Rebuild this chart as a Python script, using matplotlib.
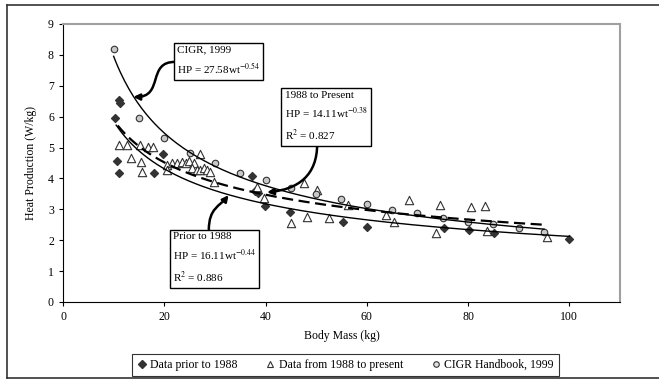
import numpy as np
import matplotlib
matplotlib.use("Agg")
import matplotlib.pyplot as plt
from matplotlib.lines import Line2D
from matplotlib.patches import FancyArrowPatch
from matplotlib.path import Path

plt.rcParams["font.family"] = ["Liberation Serif", "DejaVu Serif"]
plt.rcParams["mathtext.fontset"] = "stix"

# Data prior to 1988 (diamonds)
prior_x = [10.3, 11.0, 11.2, 10.6, 11.0, 18.0, 19.8, 37.4, 38.0, 38.5, 39.8, 44.9, 55.2, 60.0, 75.3, 80.1, 85.2, 100.0]
prior_y = [5.95, 6.55, 6.45, 4.56, 4.16, 4.16, 4.80, 4.08, 3.60, 3.52, 3.12, 2.92, 2.60, 2.44, 2.38, 2.33, 2.22, 2.03]

# Data from 1988 to present (triangles)
post_x = [11.0, 12.6, 15.2, 16.7, 17.8, 13.5, 15.4, 15.6,
          20.5, 20.5, 21.5, 22.5, 23.5, 24.2, 24.8, 25.8, 25.5, 26.5, 27.1, 27.8, 28.5, 29.1, 29.8, 27.1,
          38.4, 39.7, 47.6, 50.2, 45.1, 48.1, 52.5, 56.3, 63.8, 65.3, 68.3, 73.7, 74.4, 80.6, 83.3, 83.8, 95.6]
post_y = [5.08, 5.08, 5.08, 5.03, 5.03, 4.65, 4.54, 4.22,
          4.43, 4.27, 4.49, 4.51, 4.54, 4.49, 4.56, 4.49, 4.33, 4.27, 4.27, 4.33, 4.27, 4.22, 3.89, 4.78,
          3.72, 3.38, 3.86, 3.64, 2.57, 2.76, 2.71, 3.14, 2.83, 2.60, 3.30, 2.22, 3.14, 3.09, 3.10, 2.31, 2.12]

# CIGR Handbook, 1999 (circles)
cigr_x = [10, 15, 20, 25, 30, 35, 40, 45, 50, 55, 60, 65, 70, 75, 80, 85, 90, 95]
cigr_y = [8.20, 5.95, 5.30, 4.83, 4.51, 4.18, 3.95, 3.70, 3.50, 3.35, 3.17, 2.98, 2.87, 2.71, 2.60, 2.51, 2.38, 2.28]

# power-law fits HP = a * wt^b, drawn over (x_start, x_end)
FITS = {
    "cigr":  (27.58, -0.54, 10.0, 95.0),
    "post":  (14.11, -0.38, 10.8, 95.6),
    "prior": (16.11, -0.44, 10.5, 100.0),
}


def fit_curve(key):
    a, b, x0, x1 = FITS[key]
    xs = np.linspace(x0, x1, 200)
    return xs, a * xs ** b


def curly_arrow(ax, pts):
    # cubic bezier from box to the fitted curve
    path = Path(pts, [Path.MOVETO, Path.CURVE4, Path.CURVE4, Path.CURVE4])
    ar = FancyArrowPatch(path=path, arrowstyle="-|>", color="black", lw=1.8,
                         mutation_scale=9, shrinkA=0, shrinkB=0, zorder=5,
                         transform=ax.transData)
    ax.add_patch(ar)


fig = plt.figure(figsize=(6.59, 3.79), dpi=100)
ax = fig.add_axes([0.0956, 0.2032, 0.8452, 0.7335])

ink = "#333333"
ax.scatter(prior_x, prior_y, marker="D", s=16, color=ink, zorder=3)
ax.scatter(post_x, post_y, marker="^", s=36, facecolor="white", edgecolor=ink, linewidth=0.8, zorder=3)
ax.scatter(cigr_x, cigr_y, marker="o", s=22, facecolor="#c8c8c8", edgecolor=ink, linewidth=0.8, zorder=3)

xs, ys = fit_curve("cigr")
ax.plot(xs, ys, color="black", lw=1.0, zorder=4)
xs, ys = fit_curve("prior")
ax.plot(xs, ys, color="black", lw=1.0, zorder=4)
xs, ys = fit_curve("post")
ax.plot(xs, ys, color="black", lw=1.6, dashes=(5, 2.5), zorder=4)

ax.set_xlim(0, 110)
ax.set_ylim(0, 9)
ax.set_xticks([0, 20, 40, 60, 80, 100])
ax.set_yticks(range(10))
ax.tick_params(direction="out", length=3, width=0.8, labelsize=8.5, colors="black")
ax.set_xlabel("Body Mass (kg)", fontsize=8.5, labelpad=5)
ax.set_ylabel("Heat Production (W/kg)", fontsize=8.5, labelpad=8)
for side in ("top", "right"):
    ax.spines[side].set_color("#a0a0a0")
    ax.spines[side].set_linewidth(1.5)
for side in ("left", "bottom"):
    ax.spines[side].set_color("black")
    ax.spines[side].set_linewidth(0.8)

box = dict(boxstyle="square,pad=0.3", facecolor="white", edgecolor="black", linewidth=1.0)
txt_kw = dict(fontsize=8, ha="left", va="top", bbox=box, zorder=6, linespacing=1.55)
ax.text(22.5, 8.30, "CIGR, 1999\nHP = 27.58wt$^{-0.54}$", **txt_kw)
ax.text(43.8, 6.84, "1988 to Present\nHP = 14.11wt$^{-0.38}$\nR$^{2}$ = 0.827", **txt_kw)
ax.text(21.7, 2.25, "Prior to 1988\nHP = 16.11wt$^{-0.44}$\nR$^{2}$ = 0.886", **txt_kw)

curly_arrow(ax, [(22.2, 7.77), (16.5, 7.8), (20.0, 6.62), (13.9, 6.64)])
curly_arrow(ax, [(50.2, 5.12), (50.2, 4.1), (46.5, 3.65), (40.3, 3.55)])
curly_arrow(ax, [(28.8, 2.33), (28.8, 3.05), (31.0, 3.1), (32.7, 3.46)])

handles = [
    Line2D([], [], ls="none", marker="D", ms=4, color=ink),
    Line2D([], [], ls="none", marker="^", ms=5, mfc="white", mec=ink, mew=0.8),
    Line2D([], [], ls="none", marker="o", ms=4, mfc="#e0e0e0", mec=ink, mew=0.8),
]
labels = ["Data prior to 1988", "Data from 1988 to present", "CIGR Handbook, 1999"]
leg = fig.legend(handles, labels, loc="center", bbox_to_anchor=(0.524, 0.037), ncol=3,
                 fontsize=8.5, frameon=True, fancybox=False, handlelength=0.8, handletextpad=0.3,
                 columnspacing=2.4, borderpad=0.4)
leg.get_frame().set_edgecolor("black")
leg.get_frame().set_linewidth(0.8)

# outer frame (open on the right)
fw, fh = 659, 379
for xd, yd in [((7, 659), (5, 5)), ((7, 7), (5, 378)), ((7, 659), (378, 378))]:
    fig.add_artist(Line2D([x / fw for x in xd], [1 - y / fh for y in yd],
                          color="#333333", lw=1.2, transform=fig.transFigure))

fig.savefig("out.png", dpi=100)
